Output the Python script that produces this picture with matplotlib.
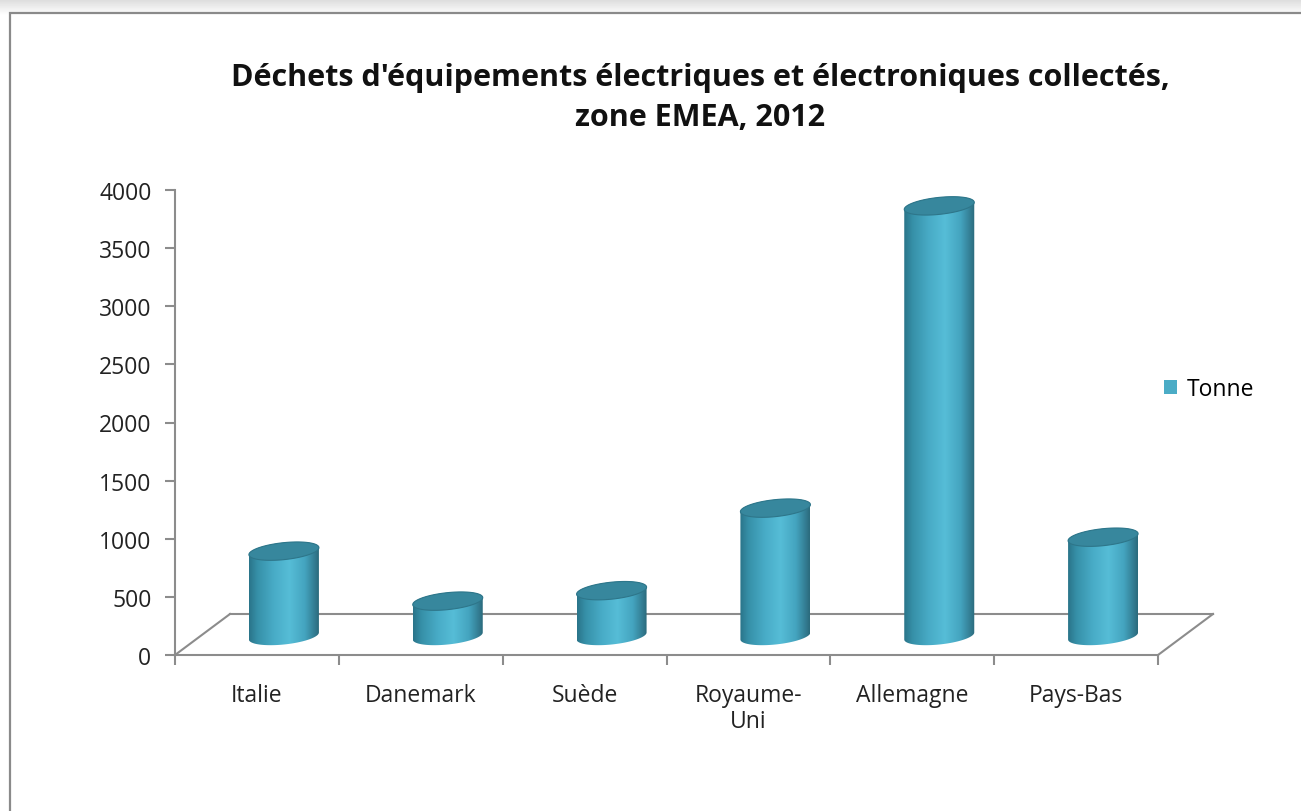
import numpy as np
import matplotlib.pyplot as plt
from matplotlib.colors import LinearSegmentedColormap
from matplotlib.patches import Polygon, Rectangle, Patch

# data
categories = ['Italie', 'Danemark', 'Suède', 'Royaume-\nUni', 'Allemagne', 'Pays-Bas']
tonnes = [730, 300, 390, 1100, 3700, 850]
y_ticks = [0, 500, 1000, 1500, 2000, 2500, 3000, 3500, 4000]
series_name = 'Tonne'
title = "Déchets d'équipements électriques et électroniques collectés,\nzone EMEA, 2012"

W, H = 1301, 812
fig = plt.figure(figsize=(W / 100, H / 100), dpi=100)

# background with soft shadow at the top and the chart frame
bg = fig.add_axes([0, 0, 1, 1], zorder=-5)
bg.set_xlim(0, W)
bg.set_ylim(H, 0)
bg.axis('off')
grad = np.linspace(0.86, 1.0, 40).reshape(-1, 1)
bg.imshow(grad, cmap='gray', vmin=0, vmax=1, extent=(0, W, 16, 0), aspect='auto')
bg.add_patch(Rectangle((10, 14), W + 50, H + 50, facecolor='white',
                       edgecolor='#8a8a8a', linewidth=1.6))
bg.set_xlim(0, W)
bg.set_ylim(H, 0)

# plot area (front face of the 3D box)
left, right, top, bottom = 175, 1158, 191, 656
ax = fig.add_axes([left / W, 1 - bottom / H, (right - left) / W, (bottom - top) / H])
ax.set_facecolor('none')
ax.set_autoscale_on(False)
n = len(categories)
ax.set_xlim(0, n)
ax.set_ylim(0, 4000)

px_x = n / (right - left)   # data units per pixel
px_y = 4000 / (bottom - top)

# floor depth
fdx, fdy = 55 * px_x, 41 * px_y
floor_kw = dict(color='#8c8c8c', linewidth=1.5, clip_on=False, zorder=1)
ax.plot([0, fdx], [0, fdy], **floor_kw)
ax.plot([fdx, n + fdx], [fdy, fdy], **floor_kw)
ax.plot([n, n + fdx], [0, fdy], **floor_kw)

# cylinders
side_cmap = LinearSegmentedColormap.from_list('cyl', [
    (0.0, '#2a7489'), (0.12, '#3690a8'), (0.35, '#48abc6'),
    (0.58, '#56bdd7'), (0.8, '#44a4bf'), (0.93, '#347f95'), (1.0, '#2b6a7c')])
half_w = 35 * px_x
half_h = 8.5 * px_y
shear = (7 * px_y) / (70 * px_x)
t_low = np.linspace(np.pi, 2 * np.pi, 80)
t_up = np.linspace(0, np.pi, 80)
t_all = np.linspace(0, 2 * np.pi, 160)

for i, v in enumerate(tonnes):
    xc = i + 0.5 + 27 * px_x
    base = 19 * px_y
    topv = base + v
    xl = xc + half_w * np.cos(t_low)
    yl = base + half_h * np.sin(t_low) + shear * (xl - xc)
    xu = xc + half_w * np.cos(t_up)
    yu = topv + half_h * np.sin(t_up) + shear * (xu - xc)
    body = Polygon(np.column_stack([np.r_[xl, xu], np.r_[yl, yu]]), closed=True,
                   facecolor='none', edgecolor='none', transform=ax.transData)
    ax.add_patch(body)
    im = ax.imshow(np.linspace(0, 1, 256).reshape(1, -1), cmap=side_cmap,
                   extent=(xc - half_w, xc + half_w, base - 3 * half_h, topv + 3 * half_h),
                   aspect='auto', interpolation='bicubic', zorder=2, clip_on=True)
    im.set_clip_path(body)
    xt = xc + half_w * np.cos(t_all)
    yt = topv + half_h * np.sin(t_all) + shear * (xt - xc)
    ax.add_patch(Polygon(np.column_stack([xt, yt]), closed=True, facecolor='#37879d',
                         edgecolor='#2e768a', linewidth=0.8, zorder=3, clip_on=False))

ax.set_xlim(0, n)
ax.set_ylim(0, 4000)
ax.set_aspect('auto')

# axes styling
for s in ['top', 'right']:
    ax.spines[s].set_visible(False)
for s in ['left', 'bottom']:
    ax.spines[s].set_color('#8c8c8c')
    ax.spines[s].set_linewidth(1.5)

font = 'Open Sans'
fs = 16.5
ax.set_yticks(y_ticks)
ax.set_yticklabels([str(t) for t in y_ticks], fontsize=fs, family=font, color='#222222')
ax.set_xticks(range(n + 1))
ax.set_xticklabels([''] * (n + 1))
ax.set_xticks(np.arange(n) + 0.5, minor=True)
ax.set_xticklabels(categories, minor=True, fontsize=fs, family=font, color='#222222',
                   linespacing=1.15, va='top')
ax.tick_params(axis='both', which='major', color='#8c8c8c', width=1.5, length=7)
ax.tick_params(axis='y', pad=10)
ax.tick_params(axis='x', which='minor', length=0, pad=20)

fig.text(700 / W, 1 - 126 / H, title, ha='center', va='baseline', fontsize=22,
         fontweight='bold', family='Open Sans', linespacing=1.42, color='#111111')

fig.legend(handles=[Patch(facecolor='#4bacc6', edgecolor='none')], labels=[series_name],
           loc='center left', bbox_to_anchor=(1143 / W, 1 - 390 / H), frameon=False,
           handlelength=0.6, handleheight=0.6, handletextpad=0.4,
           prop={'family': font, 'size': fs})

fig.savefig('out.png', dpi=100)
